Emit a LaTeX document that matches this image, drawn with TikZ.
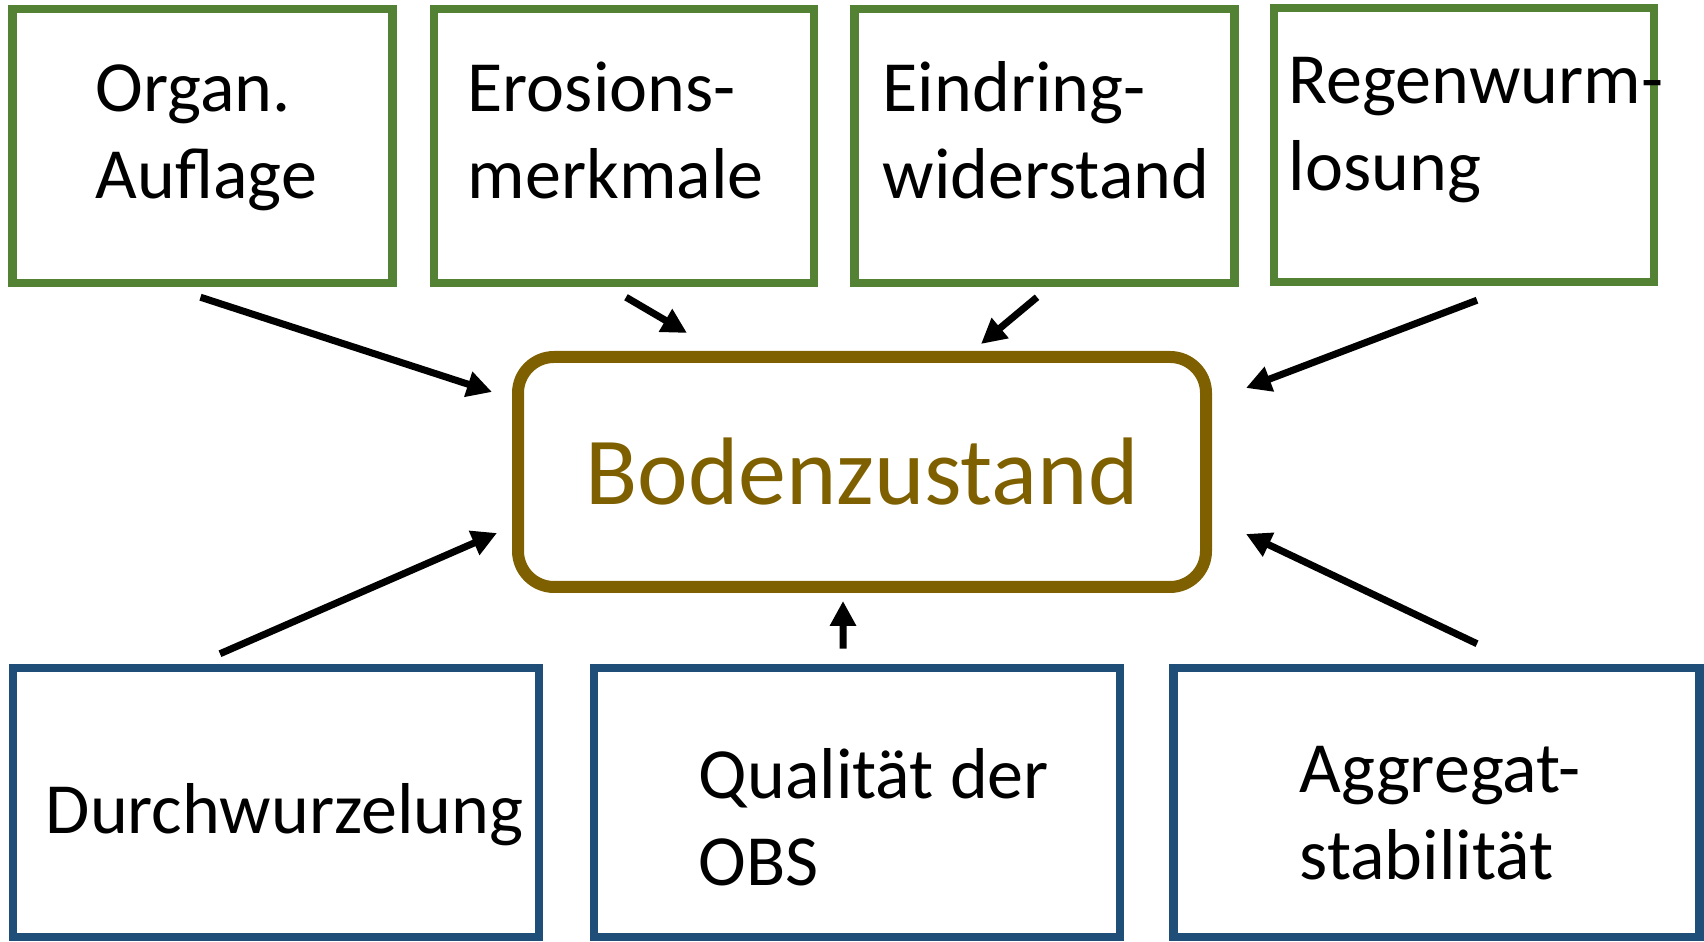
\documentclass[tikz,border=0pt]{standalone}
\usepackage{fontspec}
\setmainfont{Carlito}
\usetikzlibrary{calc,positioning,arrows.meta}
\definecolor{leafgreen}{HTML}{548235}
\definecolor{deepblue}{HTML}{1F4E79}
\definecolor{soilbrown}{HTML}{7F6000}

\begin{document}
\begin{tikzpicture}[>={Triangle[length=0.25cm,width=0.25cm]}]
        \tikzstyle{topbox}=[draw=leafgreen, line width=2.42pt, minimum width=3.8cm, minimum height=2.74cm]
        \tikzstyle{botbox}=[draw=deepblue, line width=2.42pt, minimum width=5.26cm, minimum height=2.69cm]
        \tikzstyle{words}=[anchor=base west, inner sep=0pt, text width=5cm, align=flush left, font=\fontsize{20.5}{24.5}\selectfont]
        \tikzstyle{state}=[draw=soilbrown, text=soilbrown, line width=3.41pt, rounded corners=0.36cm, minimum width=6.88cm, minimum height=2.30cm, font=\fontsize{27.3}{33}\selectfont]
        \tikzstyle{arrow}=[->, line width=2pt]

        \useasboundingbox (0,0) rectangle (17.04,9.42);

        % Indicators on top
        \node (organ)[topbox] at (2.025,7.96) {};
        \node (erosion)[topbox] at (6.24,7.96) {};
        \node (eindring)[topbox] at (10.445,7.96) {};
        \node (regen)[topbox] at (14.64,7.97) {};
        \node (organ-txt)[words] at ($(organ)+(-1.075,0.34)$) {Organ.\\Auflage};
        \node (erosion-txt)[words] at ($(erosion)+(-1.57,0.34)$) {Erosions-\\merkmale};
        \node (eindring-txt)[words] at ($(eindring)+(-1.625,0.34)$) {Eindring-\\widerstand};
        \node (regen-txt)[words] at ($(regen)+(-1.76,0.41)$) {Regenwurm-\\losung};

        % Soil state in the middle
        \node (boden)[state] at (8.62,4.70) {Bodenzustand};

        % Indicators below
        \node (durch)[botbox] at (2.76,1.395) {};
        \node (qual)[botbox] at (8.57,1.395) {};
        \node (aggr)[botbox] at (14.365,1.395) {};
        \node (durch-txt)[words] at ($(durch)+(-2.31,-0.315)$) {Durchwurzelung};
        \node (qual-txt)[words] at ($(qual)+(-1.59,0.035)$) {Qualität der\\OBS};
        \node (aggr-txt)[words] at ($(aggr)+(-1.375,0.095)$) {Aggregat-\\stabilität};

        % Arrow ends
        \coordinate (organ-out) at ($(organ.south)+(-0.02,-0.1)$);
        \coordinate (erosion-out) at ($(erosion.south)+(0.02,-0.1)$);
        \coordinate (eindring-out) at ($(eindring.south)+(-0.075,-0.1)$);
        \coordinate (regen-out) at ($(regen.south)+(0.13,-0.14)$);
        \coordinate (durch-out) at ($(durch.north)+(-0.56,0.1)$);
        \coordinate (qual-out) at ($(qual.north)+(-0.14,0.15)$);
        \coordinate (aggr-out) at ($(aggr.north)+(0.405,0.2)$);

        \coordinate (organ-in) at ($(boden)+(-3.70,0.80)$);
        \coordinate (erosion-in) at ($(boden)+(-1.75,1.39)$);
        \coordinate (eindring-in) at ($(boden)+(1.19,1.28)$);
        \coordinate (regen-in) at ($(boden)+(3.84,0.84)$);
        \coordinate (durch-in) at ($(boden)+(-3.65,-0.61)$);
        \coordinate (qual-in) at ($(boden)+(-0.19,-1.29)$);
        \coordinate (aggr-in) at ($(boden)+(3.84,-0.62)$);

        % Arrows into the soil state
        \draw[arrow] (organ-out) -- (organ-in);
        \draw[arrow] (erosion-out) -- (erosion-in);
        \draw[arrow] (eindring-out) -- (eindring-in);
        \draw[arrow] (regen-out) -- (regen-in);
        \draw[arrow] (durch-out) -- (durch-in);
        \draw[arrow] (qual-out) -- (qual-in);
        \draw[arrow] (aggr-out) -- (aggr-in);
    \end{tikzpicture}
\end{document}
